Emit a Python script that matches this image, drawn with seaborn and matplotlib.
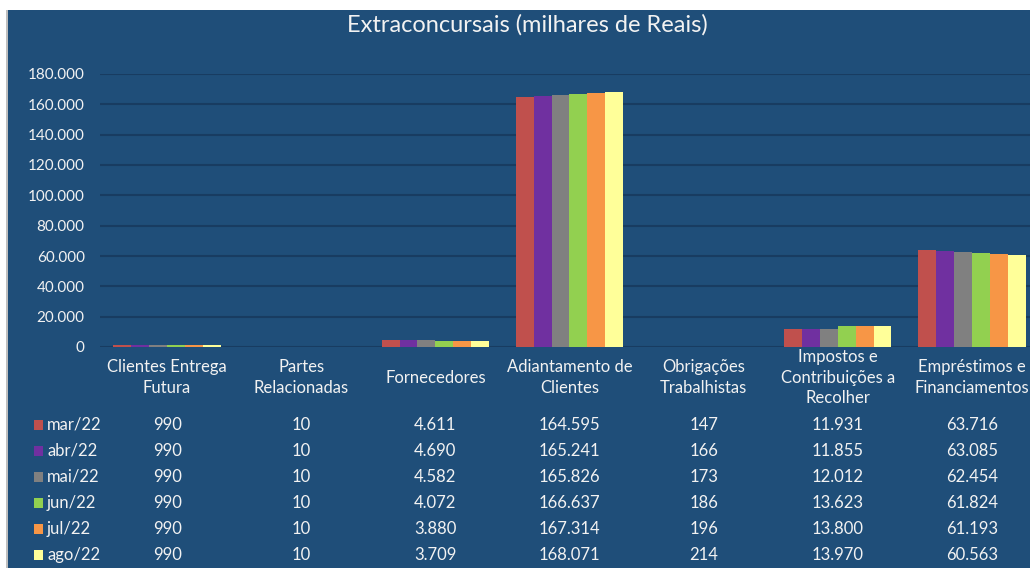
import matplotlib.pyplot as plt
import matplotlib.patches as mpatches
import numpy as np
import pandas as pd
import seaborn as sns

categories = ['Clientes Entrega\nFutura', 'Partes\nRelacionadas', 'Fornecedores',
              'Adiantamento de\nClientes', 'Obrigações\nTrabalhistas',
              'Impostos e\nContribuições a\nRecolher', 'Empréstimos e\nFinanciamentos']
months = ['mar/22', 'abr/22', 'mai/22', 'jun/22', 'jul/22', 'ago/22']
mar22 = [990, 10, 4611, 164595, 147, 11931, 63716]
abr22 = [990, 10, 4690, 165241, 166, 11855, 63085]
mai22 = [990, 10, 4582, 165826, 173, 12012, 62454]
jun22 = [990, 10, 4072, 166637, 186, 13623, 61824]
jul22 = [990, 10, 3880, 167314, 196, 13800, 61193]
ago22 = [990, 10, 3709, 168071, 214, 13970, 60563]
colors = ['#C0504D', '#7030A0', '#808080', '#92D050', '#F79646', '#FFFF99']

series = [mar22, abr22, mai22, jun22, jul22, ago22]
rows = []
for m, vals in zip(months, series):
    for c, v in zip(categories, vals):
        rows.append({'categoria': c, 'mes': m, 'valor': v})
df = pd.DataFrame(rows)

bg = '#1F4E79'
grid = '#183C61'
txt = '#F2F2F2'
fs = 12

sns.set_style('white')
plt.rcParams['font.family'] = ['Lato', 'DejaVu Sans']

W, H = 1030, 568
fig = plt.figure(figsize=(W / 100, H / 100), dpi=100, facecolor='white')
# dark panel with thin white margin at top and left
fig.patches.append(mpatches.Rectangle((7 / W, 0), 1 - 7 / W, 558 / H,
                                      transform=fig.transFigure, facecolor=bg,
                                      edgecolor='none', zorder=-2))
fig.patches.append(mpatches.Rectangle((6 / W, 0), 1.5 / W, 558 / H,
                                      transform=fig.transFigure, facecolor='#BFBFBF',
                                      edgecolor='none', zorder=-2))

# plot area runs a little past the right edge, as in the cropped original
ax = fig.add_axes([100 / W, 1 - 347 / H, 939 / W, (347 - 74) / H])
ax.patch.set_alpha(0)

sns.barplot(data=df, x='categoria', y='valor', hue='mes', palette=colors,
            order=categories, hue_order=months, width=0.8, saturation=1,
            edgecolor='none', ax=ax, legend=False)

ax.set_ylim(0, 180000)
ax.set_xlim(-0.5, len(categories) - 0.5)
ticks = np.arange(0, 180001, 20000)
ax.set_yticks(ticks)
ax.set_yticklabels([f'{int(v):,}'.replace(',', '.') for v in ticks], color=txt, fontsize=11)
ax.yaxis.grid(True, color=grid, linewidth=1.5)
ax.set_axisbelow(True)
for s in ax.spines.values():
    s.set_visible(False)
ax.tick_params(axis='y', length=0, pad=11)
ax.tick_params(axis='x', length=0, pad=22)
ax.set_xticklabels(categories, color=txt, fontsize=fs, linespacing=1.35, va='center')
ax.set_xlabel('')
ax.set_ylabel('')

fig.text(527 / W, 1 - 25 / H, 'Extraconcursais (milhares de Reais)', color=txt,
         fontsize=17, ha='center', va='center')

# data table under the chart
row_y = [425, 451, 477, 503, 529, 555]
for i, (m, vals) in enumerate(zip(months, series)):
    y = 1 - row_y[i] / H
    fig.patches.append(mpatches.Rectangle((34 / W, y - 5 / H), 9 / W, 10 / H,
                                          transform=fig.transFigure,
                                          facecolor=colors[i], edgecolor='none'))
    fig.text(47 / W, y, m, color=txt, fontsize=fs, ha='left', va='center')
    for j, v in enumerate(vals):
        xc = ax.transData.transform((j, 0))[0] / W
        fig.text(xc, y, f'{v:,}'.replace(',', '.'), color=txt, fontsize=fs,
                 ha='center', va='center')

fig.savefig('out.png', dpi=100, facecolor=fig.get_facecolor())
